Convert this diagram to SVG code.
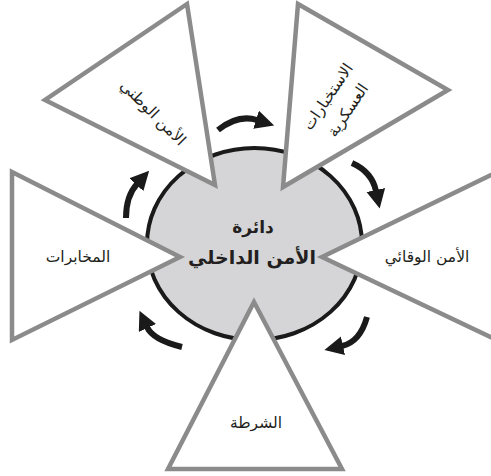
<svg xmlns="http://www.w3.org/2000/svg" width="491" height="476" viewBox="0 0 491 476">
  <style>
    .tri { fill: #ffffff; stroke: #8b8b8b; stroke-width: 4.5; stroke-linejoin: miter; }
    .core { fill: #d5d5d7; stroke: #1a1a1a; stroke-width: 4; }
    .lbl { font-family: "DejaVu Sans", sans-serif; fill: #231f20; text-anchor: middle; font-size: 15.5px; }
    .t1 { font-weight: bold; font-size: 17px; }
    .t2 { font-weight: bold; font-size: 19px; }
    .arr { fill: none; stroke: #1a1a1a; stroke-width: 6; stroke-linecap: butt; }
  </style>
  <defs>
    <marker id="ah" markerUnits="userSpaceOnUse" markerWidth="20" markerHeight="20" refX="1" refY="9.5" orient="auto">
      <path d="M0,0 L19,9.5 L0,19 z" fill="#1a1a1a"/>
    </marker>
  </defs>
  <rect width="491" height="476" fill="#ffffff"/>

  <g id="core">
    <ellipse class="core" cx="254.5" cy="244" rx="107.5" ry="96"/>
    <text class="lbl t1" x="253" y="233">دائرة</text>
    <text class="lbl t2" x="252" y="264">الأمن الداخلي</text>
  </g>

  <g id="node-national">
    <polygon class="tri" points="187,4 45,100 215,185"/>
    <text class="lbl" transform="translate(153,113) rotate(45)" x="0" y="5">الأمن الوطني</text>
  </g>

  <g id="node-military">
    <polygon class="tri" points="298,4 448,90 283,187"/>
    <g transform="translate(338,103.5) rotate(-56)">
      <text class="lbl" x="0" y="-7">الاستخبارات</text>
      <text class="lbl" x="0" y="17">العسكرية</text>
    </g>
  </g>

  <g id="node-intelligence">
    <polygon class="tri" points="12,172 180,257 12,340"/>
    <text class="lbl" x="78" y="262">المخابرات</text>
  </g>

  <g id="node-preventive">
    <polygon class="tri" points="322,257 520,161 520,351"/>
    <text class="lbl" x="427" y="262">الأمن الوقائي</text>
  </g>

  <g id="node-police">
    <polygon class="tri" points="254,302 168,469 342,469"/>
    <text class="lbl" x="256" y="428">الشرطة</text>
  </g>

  <g id="connectors">
    <path class="arr" d="M218,130 Q238,114 257,120" marker-end="url(#ah)"/>
    <path class="arr" d="M352,163 Q372,172 376,191" marker-end="url(#ah)"/>
    <path class="arr" d="M367,317 Q360,342 342,346" marker-end="url(#ah)"/>
    <path class="arr" d="M182,347 Q153,340 147,327" marker-end="url(#ah)"/>
    <path class="arr" d="M126,218 Q126,196 137,184" marker-end="url(#ah)"/>
  </g>
</svg>
